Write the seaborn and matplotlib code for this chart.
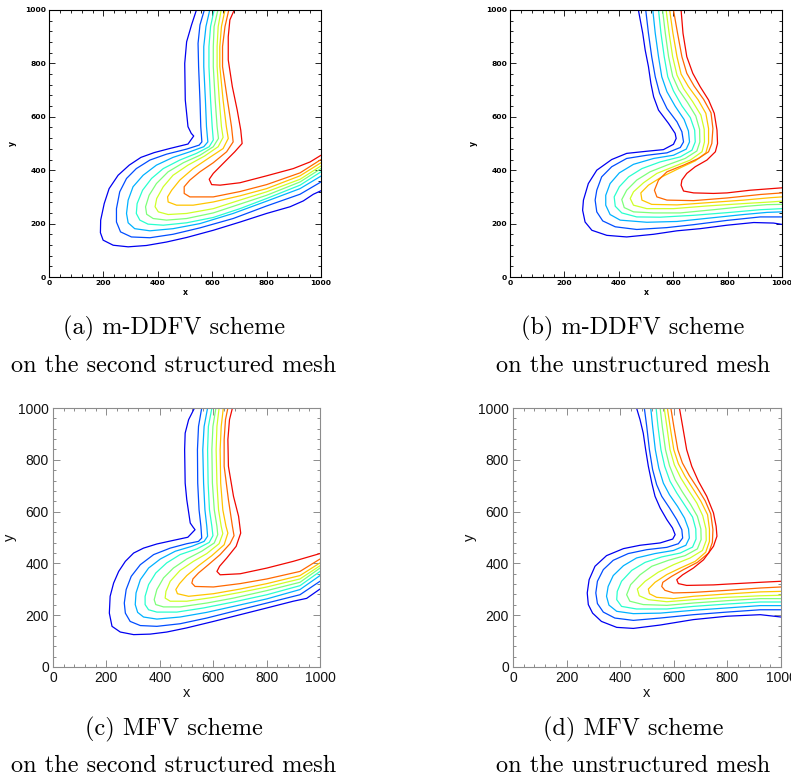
import numpy as np
import pandas as pd
import matplotlib
matplotlib.use("Agg")
import matplotlib.pyplot as plt
import seaborn as sns
from matplotlib.ticker import MultipleLocator

LEVELS = ["l1", "l2", "l3", "l4", "l5", "l6", "l7", "l8", "l9"]
TICKS = [0, 200, 400, 600, 800, 1000]

# (a) m-DDFV, second structured mesh
A_X = [
    [542,524,506,499,501,511,523,532,511,443,387,338,295,254,221,203,190,189,199,236,291,358,432,506,604,703,800,886,935,972,1000],
    [571,555,548,550,555,558,562,552,506,432,371,321,285,260,248,248,263,303,371,456,555,677,800,923,1000],
    [591,577,569,569,575,579,584,569,518,456,395,346,309,291,285,291,315,371,456,555,677,800,923,1000],
    [607,594,588,588,594,600,604,589,542,481,420,377,344,324,321,334,364,420,506,604,702,800,923,1000],
    [621,607,604,604,611,618,623,604,555,494,438,395,368,355,359,383,432,506,604,702,800,923,1000],
    [633,622,618,618,626,634,640,622,572,511,456,420,396,390,402,438,506,604,702,800,923,1000],
    [647,634,628,628,640,652,659,640,591,530,481,451,436,438,469,530,604,702,800,923,1000],
    [661,647,638,638,656,671,677,653,604,555,518,497,497,518,604,702,800,923,1000],
    [681,665,659,659,674,692,705,710,683,640,604,589,598,629,702,800,898,960,1000],
]
A_Y = [
    [1000,944,881,800,663,563,538,528,498,481,466,448,419,381,331,275,213,166,138,119,113,118,131,148,175,206,238,263,285,310,323],
    [1000,944,875,788,663,563,506,494,479,460,438,406,369,319,256,206,169,150,147,160,184,219,266,310,356],
    [1000,938,863,788,663,563,506,488,469,448,419,381,338,288,238,203,181,173,181,200,238,284,331,378],
    [1000,938,863,788,663,563,513,488,463,438,406,369,325,275,238,213,198,194,203,223,256,294,344,394],
    [1000,938,863,788,663,563,519,488,456,428,394,350,306,263,235,219,213,219,240,273,306,356,406],
    [1000,938,863,788,663,563,523,488,453,419,381,338,294,263,244,234,238,256,288,319,366,416],
    [1000,938,863,788,663,563,519,481,448,406,363,325,300,281,269,269,281,304,331,379,428],
    [1000,938,863,788,663,563,506,469,428,394,363,338,313,300,300,320,346,390,440],
    [1000,963,900,813,713,625,550,500,469,425,388,366,346,344,353,379,406,431,456],
]

# (b) m-DDFV, unstructured mesh
B_X = [
    [472,488,497,509,518,528,546,583,607,611,601,564,503,429,374,319,288,270,267,276,301,356,429,528,614,699,798,896,969,1000],
    [499,509,521,534,550,577,614,632,638,626,577,503,429,374,337,319,313,319,341,387,466,577,675,798,920,1000],
    [525,534,546,558,577,607,640,656,660,648,601,528,454,402,368,352,352,368,405,503,614,736,859,945,1000],
    [546,555,567,580,601,632,663,679,681,669,626,552,485,436,402,383,387,411,466,552,675,798,920,1000],
    [561,571,583,598,620,653,683,697,698,687,644,577,515,466,429,411,420,454,528,626,748,871,945,1000],
    [574,585,598,614,638,672,702,714,715,706,663,601,540,491,454,442,454,503,601,724,859,957,1000],
    [587,599,614,629,656,692,720,730,730,720,681,620,558,509,481,485,521,614,736,859,957,1000],
    [601,616,632,650,677,712,739,746,742,730,693,638,577,546,531,540,577,675,798,920,1000],
    [629,636,650,672,699,730,751,761,763,755,724,681,650,632,629,638,675,748,798,883,1000],
]
B_Y = [
    [1000,913,850,788,725,675,625,575,538,519,497,477,471,463,440,400,350,288,250,206,175,156,150,160,173,181,194,204,202,197],
    [1000,913,825,750,688,631,581,544,506,485,465,456,444,413,375,325,288,244,210,188,178,185,196,212,225,225],
    [1000,913,825,750,694,640,590,547,506,479,456,444,422,390,350,306,269,234,213,205,208,221,234,242,244],
    [1000,913,825,750,697,641,597,550,506,475,450,431,406,375,338,300,265,240,225,224,231,241,252,256],
    [1000,913,825,752,702,653,603,553,506,472,444,419,394,363,325,290,260,244,240,240,252,265,271,272],
    [1000,913,825,756,706,656,606,553,506,469,438,413,388,353,319,294,269,256,256,266,275,281,284],
    [1000,913,825,760,713,663,613,556,502,465,435,406,375,344,315,288,272,270,279,288,297,300],
    [1000,913,825,763,715,665,615,556,500,469,444,419,394,363,325,300,288,286,296,309,315],
    [1000,913,825,763,713,663,613,550,500,469,438,413,388,363,344,322,315,313,315,325,334],
]

# (c) MFV, second structured mesh
C_X = [
    [530,508,495,493,495,501,514,524,532,505,451,389,339,302,271,246,227,214,211,221,252,302,364,426,501,601,701,801,900,950,1000],
    [557,545,541,542,547,554,557,545,501,439,377,327,293,274,267,271,289,327,389,476,576,676,801,925,1000],
    [579,566,561,564,569,576,579,566,520,458,402,358,327,311,308,317,339,389,476,576,676,801,925,1000],
    [595,582,579,581,586,595,599,585,539,476,426,385,358,345,345,358,389,464,564,676,801,925,1000],
    [610,599,595,597,604,614,617,604,557,501,451,414,389,379,385,414,476,576,676,801,925,1000],
    [622,614,611,614,620,630,636,622,576,526,476,439,423,420,439,501,601,701,801,925,1000],
    [638,630,626,628,636,648,655,641,595,545,501,474,460,466,508,601,701,801,925,1000],
    [655,646,641,641,657,672,678,663,626,582,545,524,520,532,601,701,801,925,1000],
    [672,661,655,657,676,695,703,686,651,624,614,626,701,801,900,1000],
]
C_Y = [
    [1000,955,903,839,710,646,556,541,530,501,489,475,459,440,408,369,324,273,208,157,135,125,127,135,151,176,202,228,254,265,301],
    [1000,929,839,710,607,543,498,485,476,459,434,395,350,299,247,208,176,160,157,167,189,215,247,279,331],
    [1000,929,839,710,607,543,505,485,466,447,417,382,337,286,241,211,193,185,193,211,234,263,299,353],
    [1000,929,839,710,607,543,507,481,456,434,402,363,318,273,241,221,212,212,228,251,279,314,369],
    [1000,929,839,710,607,543,511,479,447,417,382,344,299,260,241,232,232,247,266,295,327,382],
    [1000,929,839,710,607,543,515,476,438,408,373,331,292,266,254,254,269,288,309,340,391],
    [1000,929,839,710,607,543,517,472,430,391,353,322,299,283,273,283,301,322,353,402],
    [1000,955,878,775,646,543,507,476,434,395,363,340,324,311,309,322,340,369,417],
    [1000,955,878,775,659,582,517,466,421,389,369,356,360,382,408,438],
]

# (d) MFV, unstructured mesh
D_X = [
    [461,474,486,495,505,518,530,549,574,595,605,596,549,474,412,349,306,284,277,281,297,330,387,449,549,673,798,923,1000],
    [490,499,509,521,536,555,584,611,630,633,617,574,499,430,374,337,315,309,315,337,380,449,549,673,798,923,1000],
    [514,521,531,544,561,584,614,640,655,658,645,599,530,461,412,374,355,349,358,387,449,549,673,798,923,1000],
    [534,541,552,566,586,611,642,670,682,683,670,624,555,493,443,405,389,387,405,461,574,673,798,923,1000],
    [549,557,569,584,605,632,663,688,701,702,688,642,580,518,474,439,424,436,486,574,673,798,923,1000],
    [564,574,586,602,626,655,686,708,720,721,707,661,599,542,493,464,471,505,574,673,798,923,1000],
    [576,586,600,617,642,671,701,726,733,733,719,680,624,574,530,505,509,536,599,673,798,923,1000],
    [589,600,615,632,658,688,717,738,746,744,730,688,636,592,559,555,567,599,673,798,923,1000],
    [621,633,648,667,692,723,748,758,761,748,711,673,633,611,617,648,748,798,923,1000],
]
D_Y = [
    [1000,955,903,839,775,710,659,614,569,537,511,494,479,470,457,430,389,337,286,241,208,176,153,149,162,183,196,202,193],
    [1000,929,839,762,704,659,614,569,530,498,476,462,453,438,412,376,331,286,245,212,189,180,189,202,212,221,221],
    [1000,929,839,768,710,665,620,575,533,498,470,450,438,421,391,353,311,273,239,215,206,208,219,228,237,237],
    [1000,929,839,775,717,672,623,579,533,494,463,440,425,404,373,331,292,260,234,224,224,234,243,251,251],
    [1000,929,839,777,723,676,627,582,533,492,456,430,412,389,356,318,279,254,241,238,247,256,264,264],
    [1000,929,839,781,730,682,633,584,533,489,450,421,395,366,331,301,275,260,252,260,269,275,277],
    [1000,929,839,785,736,689,640,588,533,485,443,408,382,357,327,301,283,269,264,273,282,290,292],
    [1000,929,839,788,739,691,642,591,530,481,440,404,376,350,327,311,296,286,288,296,305,309],
    [1000,929,839,775,717,659,595,543,505,466,414,382,356,337,322,315,317,320,327,331],
]

CAP_TOP = ["(a) m-DDFV scheme", "(b) m-DDFV scheme", "(c) MFV scheme", "(d) MFV scheme"]
CAP_BOTTOM = ["on the second structured mesh", "on the unstructured mesh",
              "on the second structured mesh", "on the unstructured mesh"]

# ---------------- figure ----------------
sns.set_style("ticks")
plt.rcParams["font.family"] = ["DejaVu Sans"]
plt.rcParams["text.color"] = "black"
plt.rcParams["axes.labelcolor"] = "black"

W, H = 791, 777
fig = plt.figure(figsize=(W / 100, H / 100), dpi=100)
palette = [plt.cm.jet(v) for v in np.linspace(0.1, 0.9, 9)]


def to_frame(xs, ys):
    rows = []
    for lev, xl, yl in zip(LEVELS, xs, ys):
        for k, (x, y) in enumerate(zip(xl, yl)):
            rows.append((lev, k, x, y))
    return pd.DataFrame(rows, columns=["level", "k", "x", "y"])


def rect(x0, y0, x1, y1):
    return [x0 / W, 1 - y1 / H, (x1 - x0) / W, (y1 - y0) / H]


panels = [
    (rect(49, 10, 321, 277), A_X, A_Y, "idl"),
    (rect(510, 10, 782, 277), B_X, B_Y, "idl"),
    (rect(53, 408, 320, 667), C_X, C_Y, "ps"),
    (rect(513, 408, 781, 667), D_X, D_Y, "ps"),
]

for r, xs, ys, style in panels:
    ax = fig.add_axes(r)
    df = to_frame(xs, ys)
    sns.lineplot(data=df, x="x", y="y", hue="level", hue_order=LEVELS,
                 palette=palette, sort=False, estimator=None, legend=False,
                 linewidth=0.9, ax=ax)
    ax.set_xlim(0, 1000)
    ax.set_ylim(0, 1000)
    ax.set_xticks(TICKS)
    ax.set_yticks(TICKS)
    ax.xaxis.set_minor_locator(MultipleLocator(40))
    ax.yaxis.set_minor_locator(MultipleLocator(40))
    ax.set_facecolor("white")
    if style == "idl":
        col = "black"
        for s in ax.spines.values():
            s.set_color(col)
            s.set_linewidth(0.8)
            s.set_visible(True)
        ax.tick_params(which="both", direction="in", top=True, right=True,
                       color=col, width=0.6)
        ax.tick_params(which="major", length=4, labelsize=5.4, pad=2,
                       labelcolor="black")
        ax.tick_params(which="minor", length=2)
        for lab in ax.get_xticklabels() + ax.get_yticklabels():
            lab.set_fontweight("bold")
        ax.set_xlabel("x", fontsize=5.6, fontweight="bold", color="black")
        ax.set_ylabel("y", fontsize=5.6, fontweight="bold", color="black")
        ax.xaxis.set_label_coords(0.5, -0.040)
        ax.yaxis.set_label_coords(-0.118, 0.5)
    else:
        col = "#8c8c8c"
        for s in ax.spines.values():
            s.set_color(col)
            s.set_linewidth(0.8)
            s.set_visible(True)
        ax.tick_params(which="both", direction="in", top=True, right=True,
                       color=col, width=0.7)
        ax.tick_params(which="major", length=5, labelsize=10, pad=3,
                       labelcolor="#111111")
        ax.tick_params(which="minor", length=2.5)
        for lab in ax.get_xticklabels() + ax.get_yticklabels():
            lab.set_fontfamily("Liberation Sans")
        ax.set_xlabel("x", fontsize=10.5, family="Liberation Sans", color="#111111")
        ax.set_ylabel("y", fontsize=10.5, family="Liberation Sans", color="#111111")
        ax.xaxis.set_label_coords(0.5, -0.072)
        ax.yaxis.set_label_coords(-0.135, 0.5)

# captions
cap_x = [174, 633, 174, 633]
cap_y1 = [328, 328, 729, 729]
cap_y2 = [366, 366, 766, 766]
for i in range(4):
    fig.text(cap_x[i] / W, 1 - cap_y1[i] / H, CAP_TOP[i], ha="center", va="center",
             family="cmr10", fontsize=17.5, color="black")
    fig.text(cap_x[i] / W, 1 - cap_y2[i] / H, CAP_BOTTOM[i], ha="center", va="center",
             family="cmr10", fontsize=17.5, color="black")

fig.savefig("out.png", dpi=100, facecolor="white")
